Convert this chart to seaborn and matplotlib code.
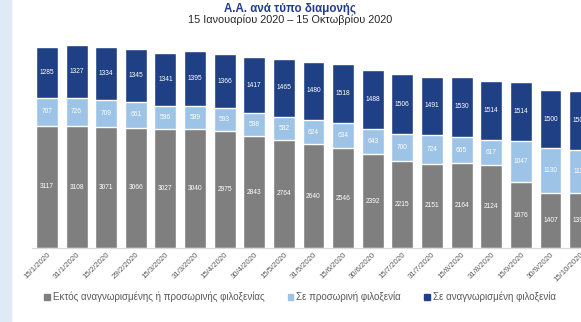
import matplotlib
matplotlib.use("Agg")
import matplotlib.pyplot as plt
import matplotlib.patches as mpatches
import seaborn as sns
import pandas as pd

dates = ["15/1/2020", "31/1/2020", "15/2/2020", "29/2/2020", "15/3/2020", "31/3/2020",
         "15/4/2020", "30/4/2020", "15/5/2020", "31/5/2020", "15/6/2020", "30/6/2020",
         "15/7/2020", "31/7/2020", "15/8/2020", "31/8/2020", "15/9/2020", "30/9/2020",
         "15/10/2020"]
outside = [3117, 3108, 3071, 3066, 3027, 3040, 2975, 2843, 2764, 2640, 2546, 2392,
           2215, 2151, 2164, 2124, 1676, 1407, 1395]
temporary = [707, 726, 709, 661, 596, 589, 593, 598, 582, 624, 634, 643,
             700, 724, 665, 617, 1047, 1130, 1110]
recognised = [1285, 1327, 1334, 1345, 1341, 1395, 1366, 1417, 1465, 1480, 1518, 1488,
              1506, 1491, 1530, 1514, 1514, 1500, 1500]

series_names = ["Εκτός αναγνωρισμένης ή προσωρινής φιλοξενίας",
                "Σε προσωρινή φιλοξενία",
                "Σε αναγνωρισμένη φιλοξενία"]
title = "Α.Α. ανά τύπο διαμονής"
subtitle = "15 Ιανουαρίου 2020 – 15 Οκτωβρίου 2020"

c_gray = "#7f7f7f"
c_light = "#9dc3e6"
c_dark = "#1f4085"

df = pd.DataFrame({"date": dates, "outside": outside, "temporary": temporary,
                   "recognised": recognised})
df["lvl1"] = df["outside"]
df["lvl2"] = df["outside"] + df["temporary"]
df["lvl3"] = df["lvl2"] + df["recognised"]

sns.set_theme(style="white")
plt.rcParams["font.family"] = ["Liberation Sans", "DejaVu Sans"]

W, H = 581, 322
fig = plt.figure(figsize=(W / 100, H / 100), dpi=100)
fig.patches.append(mpatches.Rectangle((0, 0), 11 / W, 1, transform=fig.transFigure,
                                      color="#deebf7", zorder=0))

# axes: left edge at x=32 px, right at figure edge, baseline y=248 px
ax = fig.add_axes([32 / W, (H - 248) / H, (W - 32) / W, 208 / H])
for col, colr in [("lvl3", c_dark), ("lvl2", c_light), ("lvl1", c_gray)]:
    sns.barplot(data=df, x="date", y=col, order=dates, color=colr, width=0.74,
                saturation=1, ax=ax, errorbar=None)

ax.set_xlim(-0.505, 18.03)
ax.set_ylim(0, 5300)
ax.set_xlabel("")
ax.set_ylabel("")
ax.set_yticks([])
for s in ["top", "right", "left"]:
    ax.spines[s].set_visible(False)
ax.spines["bottom"].set_color("#d9d9d9")
ax.spines["bottom"].set_linewidth(0.8)
ax.tick_params(axis="x", length=0, pad=2)
ax.set_xticks(range(len(dates)))
ax.set_xticklabels(dates, rotation=45, ha="right", rotation_mode="anchor",
                   fontsize=5.6, color="#595959")

for i in range(len(dates)):
    for bottom, val in [(0, outside[i]), (df["lvl1"][i], temporary[i]),
                        (df["lvl2"][i], recognised[i])]:
        ax.text(i, bottom + val / 2, f"{val}", ha="center", va="center",
                fontsize=4.8, color="white", clip_on=True)

fig.text(0.5, 1 - 9 / H, title, ha="center", va="center", fontsize=8.3,
         fontweight="bold", color="#203c8c")
fig.text(0.5, 1 - 20 / H, subtitle, ha="center", va="center", fontsize=7.8,
         color="#262626")

handles = [mpatches.Patch(color=c) for c in (c_gray, c_light, c_dark)]
fig.legend(handles, series_names, loc="center", bbox_to_anchor=(300 / W, 1 - 297 / H),
           ncol=3, frameon=False, fontsize=7, handlelength=0.6, handleheight=0.6,
           handletextpad=0.3, columnspacing=2.4, labelcolor="#595959")

fig.savefig("out.png", dpi=100)
